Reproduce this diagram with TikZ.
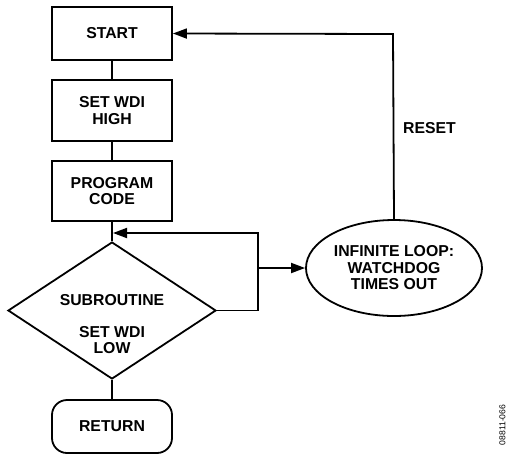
\documentclass[tikz,border=0pt]{standalone}
\usepackage{fontspec}
\setmainfont{Liberation Sans}
\usetikzlibrary{shapes.geometric,arrows.meta}
\begin{document}
\begin{tikzpicture}[x=1pt,y=-1pt,
  every node/.style={font=\fontsize{15.8}{16.5}\selectfont\bfseries},
  line/.style={line width=1.8pt},
  box/.style={draw,line width=1.8pt,minimum width=120pt,align=center,inner sep=0pt},
  arr/.style={line width=1.8pt,-{Triangle[length=14pt,width=10pt]}}]
\useasboundingbox (0,0) rectangle (508,456);
\node[box,minimum height=53pt] (start) at (112,33.5) {START};
\node[box,minimum height=61pt] (high) at (112,110.5) {SET WDI\\HIGH};
\node[box,minimum height=60pt] (prog) at (112,191) {PROGRAM\\CODE};
\node[draw,diamond,line width=1.8pt,minimum width=208pt,minimum height=137pt,inner sep=0pt] (dia) at (112,310.5) {};
\node[align=center,inner sep=0pt] (subtxt) at (112,324) {SUBROUTINE\\[15.5pt]SET WDI\\LOW};
\node[box,rounded corners=15pt,minimum height=53pt] (ret) at (112,426.5) {RETURN};
\node[draw,ellipse,line width=1.8pt,minimum width=176pt,minimum height=96pt,inner sep=0pt,align=center] (loop) at (394,268) {INFINITE LOOP:\\WATCHDOG\\TIMES OUT};
\node[anchor=west,inner sep=0pt] (reset) at (403,128) {RESET};
\node[rotate=90,inner sep=0pt,font=\fontsize{8.6}{9}\selectfont] (code) at (502.5,425) {08811-066};
\coordinate (rb) at (258,310.5);
\coordinate (rt) at (258,233);
\coordinate (rm) at (258,268);
\coordinate (join) at (113,233);
\coordinate (top) at (393,34);
\draw[line] (start.south) -- (high.north);
\draw[line] (high.south) -- (prog.north);
\draw[line] (prog.south) -- (dia.north);
\draw[line] (dia.south) -- (ret.north);
\draw[arr] (dia.east) -- (rb) -- (rt) -- (join);
\draw[arr] (rm) -- (loop.west);
\draw[arr] (loop.north) -- (top) -- (start.east);
\end{tikzpicture}
\end{document}
